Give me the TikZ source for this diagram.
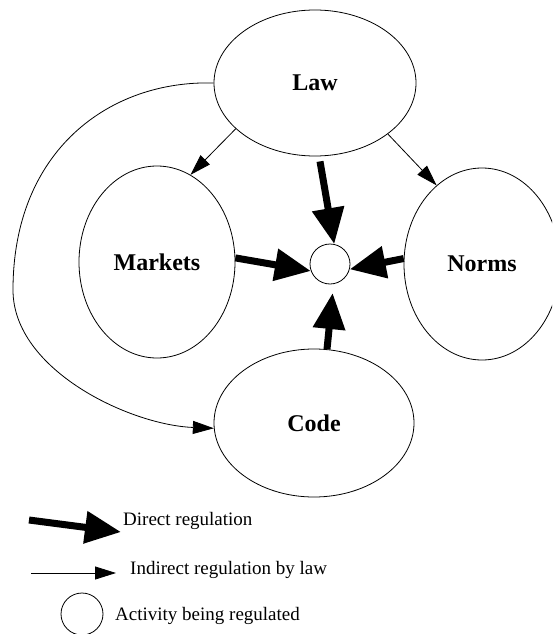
\documentclass[tikz,border=0pt]{standalone}
\usepackage{fontspec}
\setmainfont{Liberation Serif}
\usetikzlibrary{arrows.meta,shapes.geometric}

\begin{document}
\begin{tikzpicture}[x=1pt, y=-1pt,
    force/.style={ellipse, draw, line width=0.8pt, inner sep=0pt, font=\fontsize{24}{28}\selectfont\bfseries},
    direct/.style={line width=7pt, -{Triangle[length=36pt, width=31pt]}},
    indirect/.style={line width=0.8pt, -{Triangle[length=21pt, width=13pt]}},
    legend/.style={anchor=west, inner sep=0pt, font=\fontsize{19}{22}\selectfont}]
    \clip (0,0) rectangle (552,634);

    % The four forces
    \node[force, minimum width=202pt, minimum height=146pt] (law) at (315,83) {Law};
    \node[force, minimum width=156pt, minimum height=192pt] (markets) at (157,262) {Markets};
    \node[force, minimum width=156pt, minimum height=192pt] (norms) at (482,264) {Norms};
    \node[force, minimum width=200pt, minimum height=148pt] (code) at (314,423) {Code};

    % Activity being regulated
    \node[circle, draw, line width=0.8pt, minimum size=40pt, inner sep=0pt] (dot) at (330,264) {};

    % Direct regulation
    \draw[direct] ([xshift=5pt, yshift=-5pt]law.south) -- (dot.78);
    \draw[direct] (markets.3) -- (dot.200);
    \draw[direct] (norms.176) -- (dot.345);
    \draw[direct, shorten >=9pt] (code.80) -- (dot.280);

    % Indirect regulation by law
    \draw[indirect] (law.210) -- (markets.69);
    \draw[indirect] (law.325) -- (norms.120);
    \draw[indirect] (law.180) .. controls (110,80) and (13,150) .. (13,290)
        .. controls (13,370) and (130,425) .. (code.183);

    % Legend
    \coordinate (d0) at (29,520);
    \coordinate (d1) at (121,532);
    \draw[direct] (d0) -- (d1);
    \node[legend] (dtext) at (123,521) {Direct regulation};

    \coordinate (i0) at (31,573);
    \coordinate (i1) at (116,573);
    \draw[indirect] (i0) -- (i1);
    \node[legend] (itext) at (130,570) {Indirect regulation by law};

    \node[circle, draw, line width=0.8pt, minimum size=42pt, inner sep=0pt] (adot) at (82,614) {};
    \node[legend] (atext) at (115,616) {Activity being regulated};
\end{tikzpicture}
\end{document}
